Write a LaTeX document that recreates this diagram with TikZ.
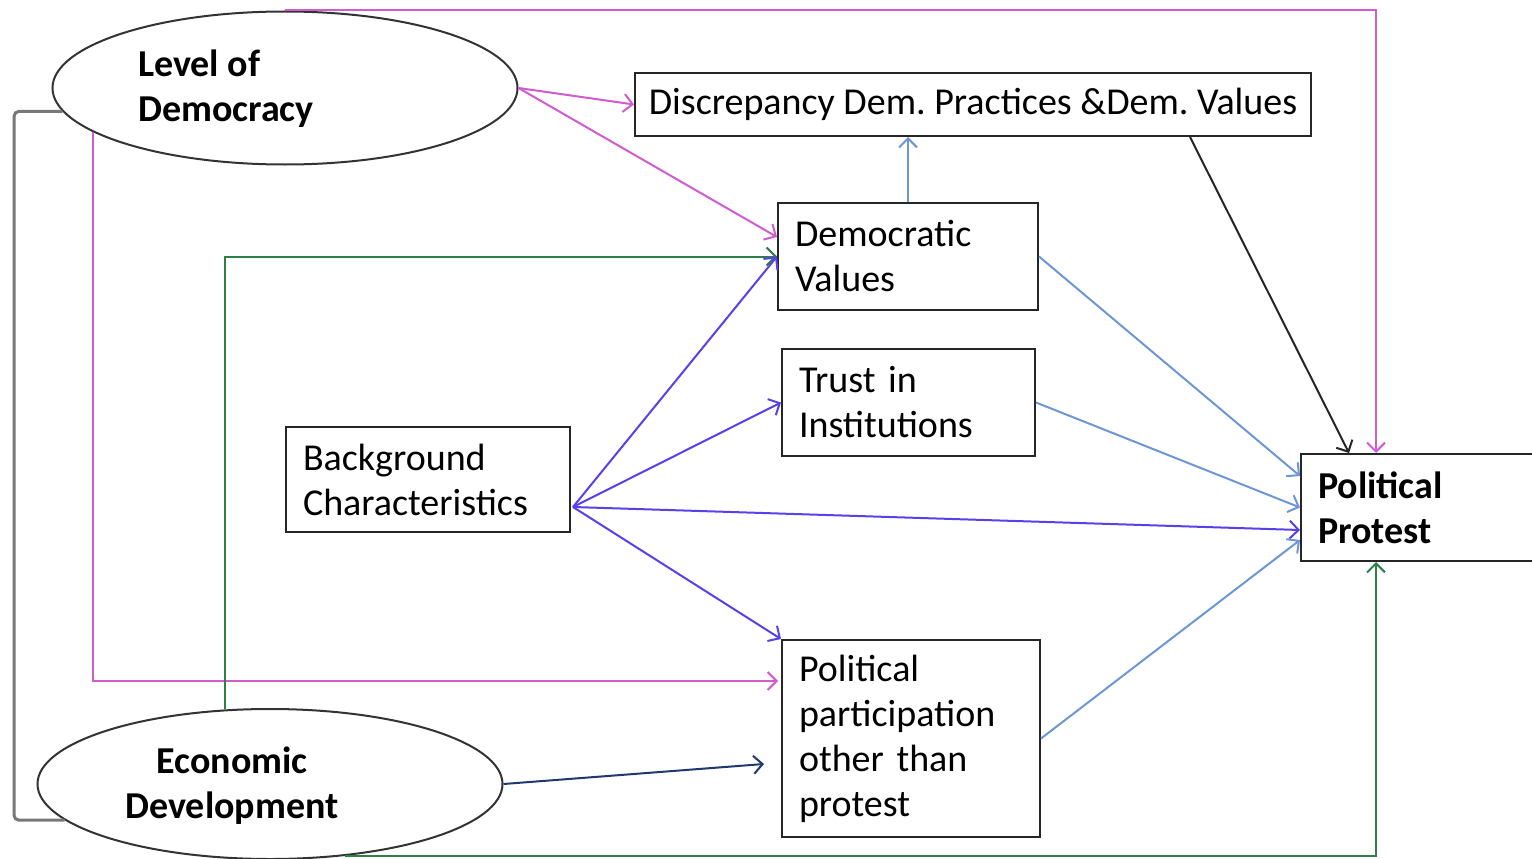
\documentclass[tikz,border=0pt]{standalone}
\usepackage{fontspec}
\setmainfont{Carlito}
\usetikzlibrary{arrows.meta,shapes.geometric}
\definecolor{cmag}{RGB}{208,92,208}
\definecolor{cgreen}{RGB}{46,128,72}
\definecolor{cnavy}{RGB}{31,56,112}
\definecolor{cviolet}{RGB}{88,64,235}
\definecolor{csteel}{RGB}{108,150,212}
\definecolor{cgray}{RGB}{120,120,120}
\frenchspacing
\begin{document}
\begin{tikzpicture}[x=1pt,y=-1pt,
  txt/.style={font=\fontsize{38}{45}\selectfont},
  btxt/.style={font=\fontsize{38}{45}\selectfont\bfseries},
  box/.style={txt,draw=black!85,line width=2pt,rectangle,align=left,inner xsep=17pt,inner ysep=0pt},
  oval/.style={draw=black!80,line width=2pt,ellipse,inner sep=0pt},
  conn/.style={line width=2pt,-{Straight Barb[length=9pt,width=18pt]}},
  mag/.style={conn,cmag},
  grn/.style={conn,cgreen},
  nav/.style={conn,cnavy},
  vio/.style={conn,cviolet},
  stl/.style={conn,csteel},
  blk/.style={conn,black!85},
  brk/.style={cgray,line width=3pt,rounded corners=5pt}
]
\useasboundingbox (0,0) rectangle (1532,859);

\node[oval,minimum width=465pt,minimum height=153pt] (lod) at (285,88) {};
\node[btxt,align=left,anchor=west,inner sep=0pt] (lodt) at (138,89) {Level of\\Democracy};
\node[oval,minimum width=465pt,minimum height=150pt] (eco) at (270,784) {};
\node[btxt,align=center,inner sep=0pt] (ecot) at (232,786) {Economic\\Development};

\node[box,inner xsep=0pt,minimum width=676pt,minimum height=63pt] (disc) at (973,104.5) {Discrepancy Dem. Practices \&Dem. Values};
\node[box,minimum width=260pt,minimum height=107pt,text width=226pt] (dv) at (908,256.5) {Democratic\\Values};
\node[box,minimum width=253pt,minimum height=107pt,text width=219pt] (tr) at (908.5,402.5) {Trust in\\Institutions};
\node[box,minimum width=284pt,minimum height=105pt,text width=250pt] (bc) at (428,479.5) {Background\\Characteristics};
\node[box,minimum width=258pt,minimum height=197pt,text width=224pt] (pp2) at (911,738.5) {Political\\participation\\other than\\protest};
\node[box,btxt,minimum width=260pt,minimum height=107pt,text width=226pt] (pp) at (1431,507.5) {Political\\Protest};

% bracket
\coordinate (bl) at (14,0);
\draw[brk] (lod.186.5) -| (bl |- eco.190) -- (eco.190);

% magenta
\draw[mag] (lod.north) -| ([xshift=-55pt]pp.north);
\draw[mag] (lod.east) -- (disc.west);
\draw[mag] (lod.east) -- ([yshift=19.5pt]dv.west);
\draw[mag] (lod.193.4) |- ([yshift=57.5pt,xshift=-3pt]pp2.west);

% green
\draw[grn] (eco.121.4) |- (dv.west);
\draw[grn] (eco.316.6) -| ([xshift=-55pt]pp.south);

% navy
\draw[nav] (eco.east) -- ([xshift=-17pt,yshift=-25.5pt]pp2.west);

% violet
\coordinate (bco) at ([yshift=-27.5pt,xshift=2pt]bc.east);
\draw[vio] (bco) -- (dv.west);
\draw[vio] (bco) -- (tr.west);
\draw[vio] (bco) -- ([yshift=-22.5pt]pp.west);
\draw[vio] (bco) -- (pp2.north west);

% steel blue
\draw[stl] (dv.east) -- ([yshift=31.5pt]pp.west);
\draw[stl] (tr.east) -- (pp.west);
\draw[stl] (pp2.east) -- ([yshift=-32.5pt]pp.west);
\draw[stl] (dv.north) -- (dv.north |- disc.south);

% black
\draw[blk] ([xshift=217pt]disc.south) -- ([xshift=-82pt]pp.north);
\end{tikzpicture}
\end{document}
